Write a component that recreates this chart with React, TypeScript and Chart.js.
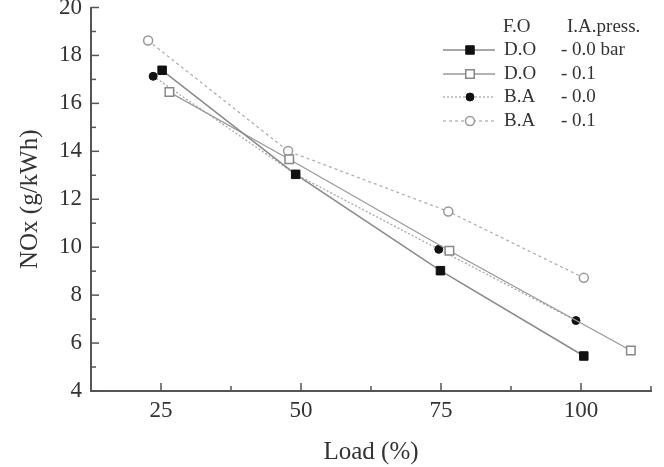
import React, { useEffect, useRef } from "react";
import { Chart, registerables } from "chart.js";

Chart.register(...registerables);

// ---- data ----
const loadDO0 = [25.2, 49.05, 74.9, 100.5];
const noxDO0 = [17.38, 13.04, 9.02, 5.46];
const loadDO1 = [26.5, 47.9, 76.5, 108.9];
const noxDO1 = [16.47, 13.67, 9.85, 5.69];
const loadBA0 = [23.6, 49.05, 74.6, 99.1];
const noxBA0 = [17.13, 13.04, 9.91, 6.94];
const loadBA1 = [22.7, 47.7, 76.3, 100.5];
const noxBA1 = [18.62, 14.01, 11.49, 8.72];

const fuelLabels = ["D.O", "D.O", "B.A", "B.A"];
const pressLabels = ["- 0.0 bar", "- 0.1", "- 0.0", "- 0.1"];
const legendHeaderFuel = "F.O";
const legendHeaderPress = "I.A.press.";
const xTickValues = [25, 50, 75, 100];
const xMinorValues = [37.5, 62.5, 87.5, 112.5];
const yMin = 4;
const yMax = 20;
const xMin = 12.5;
const xMax = 112.5;
const xTitle = "Load (%)";
const yTitle = "NOx (g/kWh)";

const FONT = "'Liberation Serif', 'Times New Roman', serif";
const AXIS = "#555";
const TEXT = "#333";

const toPts = (xs: number[], ys: number[]) => xs.map((x, i) => ({ x, y: ys[i] }));

const inwardTicks = {
  id: "inwardTicks",
  afterDraw(chart: any) {
    const { ctx, chartArea } = chart;
    const xs = chart.scales.x;
    const ys = chart.scales.y;
    ctx.save();
    ctx.strokeStyle = AXIS;
    ctx.lineWidth = 1.5;
    const line = (x1: number, y1: number, x2: number, y2: number) => {
      ctx.beginPath();
      ctx.moveTo(x1, y1);
      ctx.lineTo(x2, y2);
      ctx.stroke();
    };
    xTickValues.forEach((v) => {
      const px = xs.getPixelForValue(v);
      line(px, chartArea.bottom, px, chartArea.bottom - 8);
    });
    xMinorValues.forEach((v) => {
      const px = xs.getPixelForValue(v);
      line(px, chartArea.bottom, px, chartArea.bottom - 5);
    });
    for (let v = yMin; v <= yMax; v += 1) {
      const py = ys.getPixelForValue(v);
      const len = v % 2 === 0 ? 8 : 5;
      line(chartArea.left, py, chartArea.left + len, py);
    }
    ctx.restore();
  },
};

const customLegend = {
  id: "customLegend",
  afterDraw(chart: any) {
    const { ctx } = chart;
    ctx.save();
    ctx.font = `19px ${FONT}`;
    ctx.fillStyle = TEXT;
    ctx.textBaseline = "middle";
    ctx.textAlign = "left";
    ctx.fillText(legendHeaderFuel, 503, 27);
    ctx.fillText(legendHeaderPress, 567, 27);
    const rowY = [50, 74, 97, 121];
    chart.data.datasets.forEach((ds: any, i: number) => {
      const y = rowY[i];
      ctx.save();
      ctx.strokeStyle = ds.borderColor;
      ctx.lineWidth = ds.borderWidth;
      ctx.setLineDash(ds.borderDash || []);
      ctx.beginPath();
      ctx.moveTo(443, y);
      ctx.lineTo(495, y);
      ctx.stroke();
      ctx.setLineDash([]);
      ctx.fillStyle = ds.pointBackgroundColor;
      ctx.strokeStyle = ds.pointBorderColor;
      ctx.lineWidth = ds.pointBorderWidth;
      const r = ds.pointRadius;
      ctx.beginPath();
      if (ds.pointStyle === "rect") {
        const s = Math.SQRT1_2 * r;
        ctx.rect(470 - s, y - s, 2 * s, 2 * s);
      } else {
        ctx.arc(470, y, r, 0, Math.PI * 2);
      }
      ctx.fill();
      ctx.stroke();
      ctx.restore();
      ctx.fillStyle = TEXT;
      ctx.fillText(fuelLabels[i], 504, y);
      ctx.fillText(pressLabels[i], 561, y);
    });
    ctx.restore();
  },
};

export default function App() {
  const ref = useRef<HTMLCanvasElement | null>(null);
  useEffect(() => {
    if (!ref.current) return;
    const chart = new Chart(ref.current, {
      type: "scatter",
      data: {
        datasets: [
          {
            label: "D.O - 0.0 bar",
            data: toPts(loadDO0, noxDO0),
            showLine: true,
            borderColor: "#8a8a8a",
            borderWidth: 1.5,
            pointStyle: "rect",
            pointRadius: 6,
            pointBackgroundColor: "#111",
            pointBorderColor: "#111",
            pointBorderWidth: 1,
          },
          {
            label: "D.O - 0.1",
            data: toPts(loadDO1, noxDO1),
            showLine: true,
            borderColor: "#9a9a9a",
            borderWidth: 1.3,
            pointStyle: "rect",
            pointRadius: 6,
            pointBackgroundColor: "#fff",
            pointBorderColor: "#888",
            pointBorderWidth: 1.5,
          },
          {
            label: "B.A - 0.0",
            data: toPts(loadBA0, noxBA0),
            showLine: true,
            borderColor: "#a8a8a8",
            borderWidth: 1.3,
            borderDash: [2, 2],
            pointStyle: "circle",
            pointRadius: 4,
            pointBackgroundColor: "#111",
            pointBorderColor: "#111",
            pointBorderWidth: 1,
          },
          {
            label: "B.A - 0.1",
            data: toPts(loadBA1, noxBA1),
            showLine: true,
            borderColor: "#b0b0b0",
            borderWidth: 1.3,
            borderDash: [3, 3],
            pointStyle: "circle",
            pointRadius: 4.5,
            pointBackgroundColor: "#fff",
            pointBorderColor: "#999",
            pointBorderWidth: 1.5,
          },
        ],
      },
      options: {
        animation: false,
        responsive: true,
        maintainAspectRatio: false,
        layout: { padding: { left: 0, right: 13, top: 6, bottom: 0 } },
        plugins: { legend: { display: false }, tooltip: { enabled: false } },
        scales: {
          x: {
            type: "linear",
            min: xMin,
            max: xMax,
            afterBuildTicks: (s: any) => {
              s.ticks = xTickValues.map((v) => ({ value: v }));
            },
            afterFit: (s: any) => {
              s.height = 76;
              s.paddingLeft = 0;
              s.paddingRight = 0;
            },
            grid: { display: false, drawTicks: false },
            border: { display: true, color: AXIS, width: 2 },
            ticks: {
              font: { family: FONT, size: 23 },
              color: TEXT,
              padding: 6,
              maxRotation: 0,
              autoSkip: false,
            },
            title: {
              display: true,
              text: xTitle,
              font: { family: FONT, size: 25 },
              color: TEXT,
              padding: { top: 0, bottom: 0 },
            },
          },
          y: {
            type: "linear",
            min: yMin,
            max: yMax,
            afterFit: (s: any) => {
              s.width = 91;
              s.paddingTop = 0;
              s.paddingBottom = 0;
            },
            grid: { display: false, drawTicks: false },
            border: { display: true, color: AXIS, width: 2 },
            ticks: {
              stepSize: 2,
              font: { family: FONT, size: 23 },
              color: TEXT,
              padding: 9,
            },
            title: {
              display: true,
              text: yTitle,
              font: { family: FONT, size: 25 },
              color: TEXT,
              padding: { top: 15, bottom: 0 },
            },
          },
        },
      },
      plugins: [inwardTicks, customLegend],
    } as any);
    return () => chart.destroy();
  }, []);
  return (
    <div style={{ position: "fixed", left: 0, top: 0, width: 664, height: 467, background: "#fff" }}>
      <canvas ref={ref} />
    </div>
  );
}
